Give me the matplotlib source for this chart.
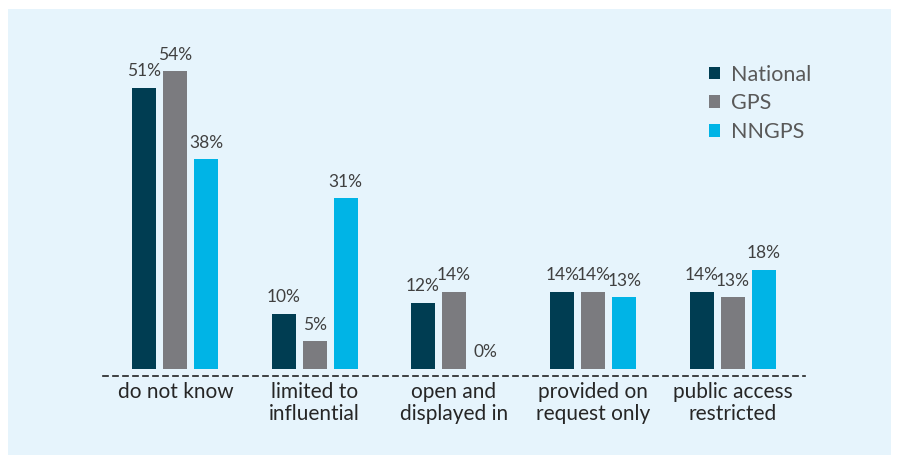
import matplotlib
matplotlib.use('Agg')
import matplotlib.pyplot as plt
import numpy as np
from matplotlib.patches import Rectangle

categories = ['do not know', 'limited to\ninfluential', 'open and\ndisplayed in',
              'provided on\nrequest only', 'public access\nrestricted']
national = [51, 10, 12, 14, 14]
gps = [54, 5, 14, 14, 13]
nngps = [38, 31, 0, 13, 18]
series_names = ['National', 'GPS', 'NNGPS']
colors = ['#003d52', '#7b7b7f', '#00b4e6']

plt.rcParams['font.family'] = ['Lato', 'DejaVu Sans']

W, H = 898, 459
fig = plt.figure(figsize=(W / 100, H / 100), dpi=100)
fig.patch.set_facecolor('white')
# light blue panel behind everything
fig.add_artist(Rectangle((8 / W, 4 / H), 883 / W, 446 / H,
                         transform=fig.transFigure, facecolor='#e6f4fc',
                         edgecolor='none', zorder=-10))

# axes placed in pixel terms: x 103..805, baseline at y=376
ax = fig.add_axes([103 / W, (H - 376) / H, 702 / W, (376 - 38) / H])
ax.set_facecolor('none')

x = np.arange(len(categories))
step = 31 / 139.5
bw = 24 / 139.5
for i, (vals, c, name) in enumerate(zip([national, gps, nngps], colors, series_names)):
    pos = x + (i - 1) * step
    ax.bar(pos, vals, width=bw, color=c, label=name, zorder=3)
    for xp, v in zip(pos, vals):
        ax.annotate(f'{v}%', (xp, v), xytext=(0, 6), textcoords='offset points',
                    ha='center', va='bottom', fontsize=12.5, color='#404040')

ax.set_xlim(-0.52, 4.52)
ax.set_ylim(-1.3, 60)
ax.set_yticks([])
ax.set_xticks(x)
ax.set_xticklabels(categories, fontsize=15, color='#262626', linespacing=1.15)
ax.tick_params(axis='x', length=0, pad=4)
for s in ['top', 'right', 'left']:
    ax.spines[s].set_visible(False)
ax.spines['bottom'].set_linestyle((0, (3, 3)))
ax.spines['bottom'].set_linewidth(1.2)
ax.spines['bottom'].set_color('#222222')

leg = ax.legend(loc='upper left', bbox_to_anchor=(597 / 702, (376 - 56) / (376 - 38)),
                frameon=False, fontsize=15.5, handlelength=0.55, handleheight=0.55,
                handletextpad=0.5, labelspacing=0.4, borderaxespad=0)
for t in leg.get_texts():
    t.set_color('#595959')

fig.savefig('out.png', dpi=100, facecolor='white')
